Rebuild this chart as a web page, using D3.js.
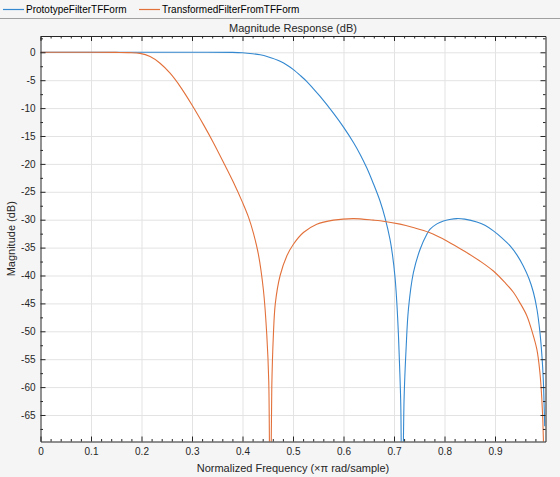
<!DOCTYPE html>
<html>
<head>
<meta charset="utf-8">
<script src="https://cdn.jsdelivr.net/npm/d3@7"></script>
<style>
  html, body { margin: 0; padding: 0; background: #f5f5f5; }
  svg { display: block; font-family: "Liberation Sans", Arial, sans-serif; }
</style>
</head>
<body>
<svg id="chart" width="560" height="477"></svg>
<script>
// ---- data ----
const seriesNames = ["PrototypeFilterTFForm", "TransformedFilterFromTFForm"];
const seriesColors = ["#3388d0", "#e2703a"];

// Prototype filter: normalized frequency and magnitude (dB)
const protoFreq = [0, 0.1, 0.2, 0.3, 0.38, 0.40, 0.42, 0.435, 0.45, 0.4745, 0.49, 0.5008, 0.515, 0.527, 0.54, 0.5537,
  0.58, 0.60, 0.62, 0.633, 0.646, 0.659, 0.6725, 0.6824, 0.692, 0.697, 0.7022, 0.706, 0.7087, 0.711, 0.7135, 0.716,
  0.72, 0.724, 0.7286, 0.7384, 0.7517, 0.765, 0.7715, 0.785, 0.798, 0.81, 0.8244, 0.84, 0.864, 0.88,
  0.8968, 0.913, 0.93, 0.944, 0.956, 0.967, 0.976, 0.983, 0.989, 0.993, 0.9958, 0.9972, 0.9985];
const protoMag = [0, 0, 0, 0, -0.02, -0.08, -0.25, -0.45, -0.8, -1.6, -2.4, -3.1, -4.2, -5.2, -6.5, -7.9,
  -10.9, -13.4, -16.2, -18.3, -20.7, -23.5, -26.7, -29.7, -33.5, -36.3, -40.5, -45.5, -50.5, -56, -63.5, -90,
  -62, -53, -46, -39.5, -35.3, -32.6, -31.7, -30.75, -30.25, -29.98, -29.8, -29.9, -30.4, -31.0,
  -32.0, -33.2, -34.7, -36.4, -38.3, -40.5, -43, -46, -50.2, -54.5, -59, -63, -67];

// Transformed filter
const transFreq = [0, 0.1, 0.15, 0.175, 0.197, 0.217, 0.2367, 0.2566, 0.2764, 0.30, 0.3233, 0.3424, 0.3655, 0.382,
  0.40, 0.4117, 0.4216, 0.4315, 0.4414, 0.448, 0.452, 0.4547, 0.458, 0.461, 0.465, 0.4745, 0.4877,
  0.5008, 0.5206, 0.547, 0.58, 0.6196, 0.659, 0.6725, 0.712, 0.738, 0.77, 0.8046, 0.844, 0.87, 0.8968,
  0.92, 0.9364, 0.95, 0.963, 0.974, 0.9828, 0.9885, 0.9927, 0.9958, 0.9968];
const transMag = [0, 0, -0.02, -0.06, -0.2, -0.77, -1.96, -3.75, -6.1, -9.44, -13.05, -16.2, -20.3, -23.3,
  -26.9, -29.5, -32.4, -36.2, -42.6, -50.5, -59, -90, -60, -51, -45, -40.0, -36.5,
  -34.4, -32.3, -30.8, -30.07, -29.8, -30.07, -30.2, -30.8, -31.4, -32.3, -33.8, -35.9, -37.4, -39.2,
  -41.3, -43, -45, -47.2, -50.2, -53.2, -57, -62.1, -69.2, -90];

const xTicks = [0, 0.1, 0.2, 0.3, 0.4, 0.5, 0.6, 0.7, 0.8, 0.9];
const yTicks = [0, -5, -10, -15, -20, -25, -30, -35, -40, -45, -50, -55, -60, -65];
const titleText = "Magnitude Response (dB)";
const xLabelText = "Normalized Frequency (\u00d7\u03c0 rad/sample)";
const yLabelText = "Magnitude (dB)";

// ---- layout ----
const svg = d3.select("#chart");
const W = 560, H = 477;
const plot = { left: 40.5, right: 545.5, top: 36, bottom: 441.5 };
const x = d3.scaleLinear().domain([0, 1]).range([plot.left, plot.right]);
const y = d3.scaleLinear().domain([-69.75, 2.92]).range([plot.bottom, plot.top]);

svg.append("rect").attr("width", W).attr("height", H).attr("fill", "#f5f5f5");

// legend
const legend = svg.append("g").attr("class", "legend");
const legItems = [{x0: 3, tx: 26}, {x0: 139, tx: 162}];
seriesNames.forEach((n, i) => {
  const g = legend.append("g");
  g.append("line").attr("x1", legItems[i].x0).attr("x2", legItems[i].x0 + 21)
    .attr("y1", 9.5).attr("y2", 9.5)
    .style("stroke", seriesColors[i]).style("stroke-width", "1.2px");
  g.append("text").attr("x", legItems[i].tx).attr("y", 13).attr("font-size", 10)
    .attr("fill", "#000").text(n);
});
svg.append("line").attr("x1", 0).attr("x2", W).attr("y1", 18.5).attr("y2", 18.5)
  .attr("stroke", "#a0a0a0").attr("stroke-width", 1);

// plot background
svg.append("rect").attr("x", plot.left).attr("y", plot.top)
  .attr("width", plot.right - plot.left).attr("height", plot.bottom - plot.top).attr("fill", "#ffffff");

// grid
const ph = plot.bottom - plot.top, pw = plot.right - plot.left;
svg.append("g").attr("transform", `translate(0,${plot.bottom})`)
  .call(d3.axisBottom(x).tickValues(xTicks.slice(1)).tickSize(-ph).tickFormat(""))
  .call(g => g.select(".domain").remove())
  .call(g => g.selectAll(".tick line").attr("stroke", "#e3e3e3"));
svg.append("g").attr("transform", `translate(${plot.left},0)`)
  .call(d3.axisLeft(y).tickValues(yTicks).tickSize(-pw).tickFormat(""))
  .call(g => g.select(".domain").remove())
  .call(g => g.selectAll(".tick line").attr("stroke", "#e3e3e3"));

// lines
svg.append("clipPath").attr("id", "clip").append("rect")
  .attr("x", plot.left).attr("y", plot.top).attr("width", pw).attr("height", ph);
const line = d3.line().x(d => x(d[0])).y(d => y(d[1])).curve(d3.curveCatmullRom.alpha(0.5));
const series = [
  d3.zip(protoFreq, protoMag),
  d3.zip(transFreq, transMag)
];
series.forEach((s, i) => {
  svg.append("path").datum(s).attr("clip-path", "url(#clip)")
    .attr("fill", "none").attr("stroke", seriesColors[i]).attr("stroke-width", 1.1)
    .attr("d", line);
});

// axes (ticks pointing inward, box on)
const axisColor = "#262626";
const minorX = d3.range(0, 50).map(i => i * 0.02).filter(v => Math.round(v * 100) % 10 !== 0);
const minorY = d3.range(1, -28, -1).map(i => i * 2.5).filter(v => v % 5 !== 0);

function style(g) {
  g.select(".domain").attr("stroke", axisColor);
  g.selectAll(".tick line").attr("stroke", axisColor);
  g.selectAll(".tick text").attr("fill", "#262626").attr("font-size", 10)
    .attr("font-family", "Liberation Sans, Arial, sans-serif");
}
// bottom
svg.append("g").attr("transform", `translate(0,${plot.bottom})`)
  .call(d3.axisBottom(x).tickValues(xTicks).tickSize(-5).tickSizeOuter(0).tickPadding(6)
    .tickFormat(d => d === 0 ? "0" : d3.format(".1f")(d)))
  .call(style);
svg.append("g").attr("transform", `translate(0,${plot.bottom})`)
  .call(d3.axisBottom(x).tickValues(minorX).tickSize(-2.5).tickSizeOuter(0).tickFormat(""))
  .call(style).call(g => g.select(".domain").remove());
// top
svg.append("g").attr("transform", `translate(0,${plot.top})`)
  .call(d3.axisTop(x).tickValues(xTicks).tickSize(-5).tickSizeOuter(0).tickFormat(""))
  .call(style);
svg.append("g").attr("transform", `translate(0,${plot.top})`)
  .call(d3.axisTop(x).tickValues(minorX).tickSize(-2.5).tickSizeOuter(0).tickFormat(""))
  .call(style).call(g => g.select(".domain").remove());
// left
svg.append("g").attr("transform", `translate(${plot.left},0)`)
  .call(d3.axisLeft(y).tickValues(yTicks).tickSize(-5).tickSizeOuter(0).tickPadding(5)
    .tickFormat(d => d3.format("d")(d).replace("\u2212", "-")))
  .call(style);
svg.append("g").attr("transform", `translate(${plot.left},0)`)
  .call(d3.axisLeft(y).tickValues(minorY).tickSize(-2.5).tickSizeOuter(0).tickFormat(""))
  .call(style).call(g => g.select(".domain").remove());
// right
svg.append("g").attr("transform", `translate(${plot.right},0)`)
  .call(d3.axisRight(y).tickValues(yTicks).tickSize(-5).tickSizeOuter(0).tickFormat(""))
  .call(style);
svg.append("g").attr("transform", `translate(${plot.right},0)`)
  .call(d3.axisRight(y).tickValues(minorY).tickSize(-2.5).tickSizeOuter(0).tickFormat(""))
  .call(style).call(g => g.select(".domain").remove());

// titles
svg.append("text").attr("x", (plot.left + plot.right) / 2).attr("y", 32)
  .attr("text-anchor", "middle").attr("font-size", 11).attr("fill", "#262626").text(titleText);
svg.append("text").attr("x", (plot.left + plot.right) / 2).attr("y", 472)
  .attr("text-anchor", "middle").attr("font-size", 11).attr("fill", "#262626").text(xLabelText);
svg.append("text")
  .attr("transform", `translate(15,${(plot.top + plot.bottom) / 2}) rotate(-90)`)
  .attr("text-anchor", "middle").attr("font-size", 11).attr("fill", "#262626").text(yLabelText);
</script>
</body>
</html>
